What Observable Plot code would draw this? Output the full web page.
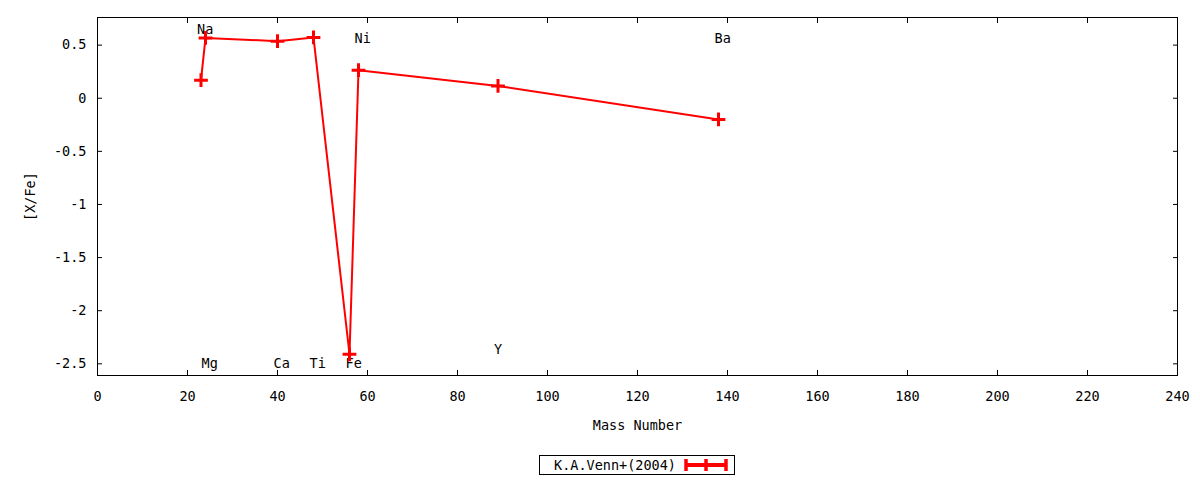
<!DOCTYPE html>
<html>
<head>
<meta charset="utf-8">
<script src="https://cdn.jsdelivr.net/npm/d3@7"></script>
<script src="https://cdn.jsdelivr.net/npm/@observablehq/plot@0.6"></script>
<style>
  body { margin: 0; background: #fff; font-family: "DejaVu Sans Mono", monospace; }
  #legend { display: flex; justify-content: center; margin: 15px 23px 0 97px; }
  .legend-box { border: 1px solid #000; display: flex; align-items: center; height: 18px; padding: 0 6px 0 14px; font-size: 13.5px; gap: 8px; }
  .legend-box svg { display: block; }
</style>
</head>
<body>
<div id="chart"></div>
<div id="legend"></div>
<script>
// [X/Fe] abundance pattern vs mass number (K.A.Venn+ 2004)
const elements = ["Na", "Mg", "Ca", "Ti", "Fe", "Ni", "Y", "Ba"];
const massNumber = [23, 24, 40, 48, 56, 58, 89, 138];
const xfe = [0.17, 0.568, 0.537, 0.572, -2.41, 0.264, 0.116, -0.20];

// element label anchors (data coordinates, as placed in the original)
const labelX = [23, 24, 40, 48, 56, 58, 89, 138];
const labelY = [0.65, -2.5, -2.5, -2.5, -2.5, 0.56, -2.37, 0.56];

const xTicks = d3.range(0, 241, 20);
const yTicks = [0.5, 0, -0.5, -1, -1.5, -2, -2.5];
const seriesName = "K.A.Venn+(2004)";

const points = massNumber.map((a, i) => ({ a, v: xfe[i] }));
const labels = elements.map((name, i) => ({ name, x: labelX[i], y: labelY[i] }));

const red = "#ff0000";

const plot = Plot.plot({
  width: 1200,
  height: 440,
  marginLeft: 97,
  marginRight: 23,
  marginTop: 17,
  marginBottom: 65,
  style: { fontFamily: "DejaVu Sans Mono, monospace", fontSize: "13.5px", color: "#000", background: "#fff" },
  x: { domain: [0, 240] },
  y: { domain: [-2.61, 0.76] },
  marks: [
    Plot.frame({ stroke: "#000" }),
    Plot.axisX(xTicks, { anchor: "bottom", tickSize: -5, tickPadding: 21, tickFormat: d => String(d),
      label: "Mass Number", labelAnchor: "center", labelArrow: "none", labelOffset: 54 }),
    Plot.axisX(xTicks, { anchor: "top", tickSize: -5, tickFormat: () => "", label: null }),
    Plot.axisY(yTicks, { anchor: "left", tickSize: -5, tickPadding: 16, tickFormat: d => String(d),
      label: "[X/Fe]", labelAnchor: "center", labelArrow: "none", labelOffset: 72 }),
    Plot.axisY(yTicks, { anchor: "right", tickSize: -5, tickFormat: () => "", label: null }),
    Plot.text(labels, { x: "x", y: "y", text: "name", textAnchor: "start", lineAnchor: "middle", dx: -4, fill: "#000" }),
    Plot.line(points, { x: "a", y: "v", stroke: red, strokeWidth: 2 }),
    Plot.dot(points, { x: "a", y: "v", symbol: "plus", r: 4.5, stroke: red, strokeWidth: 3 })
  ]
});
document.getElementById("chart").appendChild(plot);

// legend below the frame
const legend = document.getElementById("legend");
legend.innerHTML = `<div class="legend-box"><span>${seriesName}</span>
  <svg width="44" height="14"><line x1="1" x2="43" y1="7" y2="7" stroke="${red}" stroke-width="4"/>
  <line x1="2" x2="2" y1="1" y2="13" stroke="${red}" stroke-width="3.5"/>
  <line x1="22" x2="22" y1="1" y2="13" stroke="${red}" stroke-width="3.5"/>
  <line x1="42" x2="42" y1="1" y2="13" stroke="${red}" stroke-width="3.5"/></svg></div>`;
</script>
</body>
</html>
